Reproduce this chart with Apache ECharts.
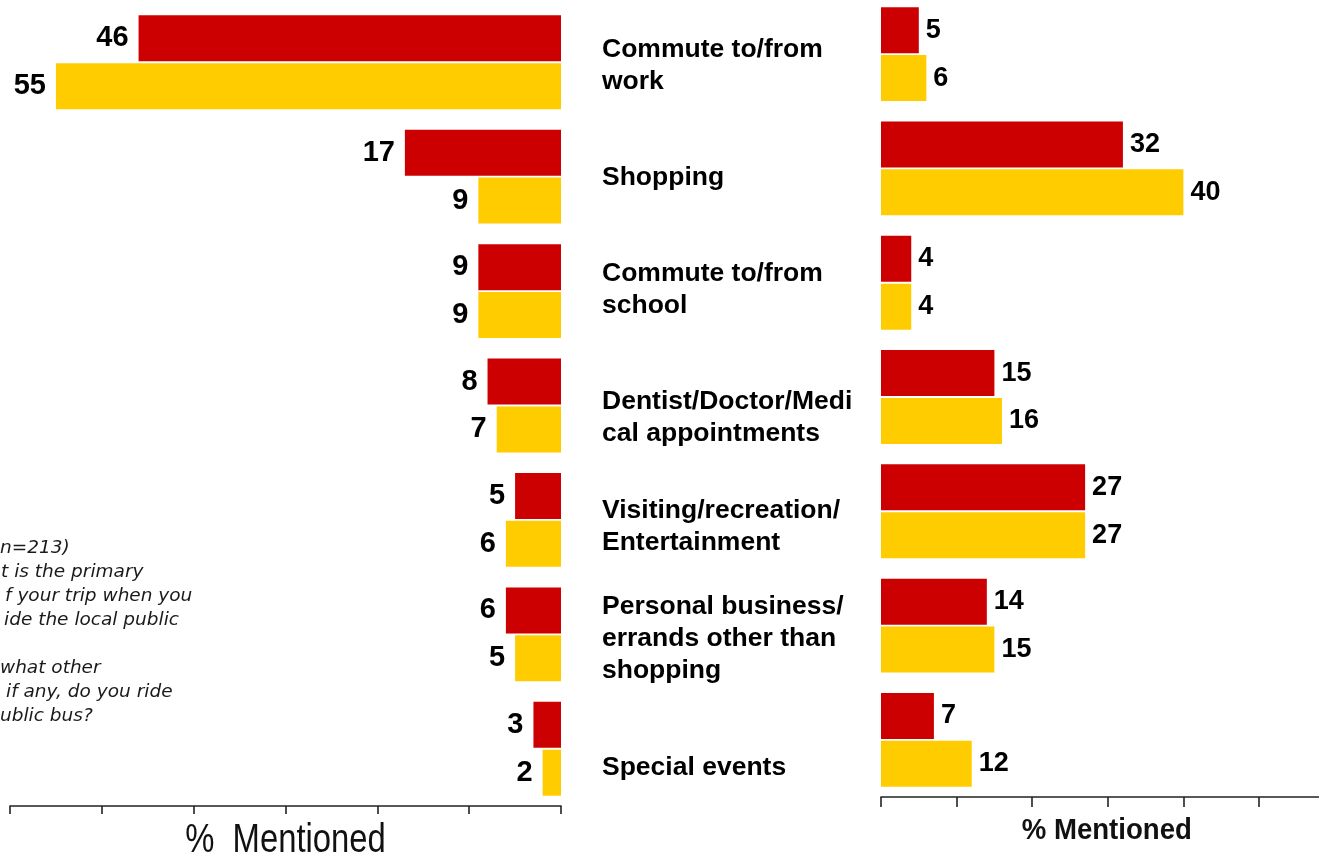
<!DOCTYPE html>
<html>
<head>
<meta charset="utf-8">
<title>Trip purposes – % Mentioned</title>
<script src="https://cdn.jsdelivr.net/npm/echarts@6/dist/echarts.min.js"></script>
<style>
  html, body { margin: 0; padding: 0; background: #ffffff; }
  #chart { width: 1319px; height: 856px; }
</style>
</head>
<body>
<div id="chart"></div>
<script>
// Trip purpose categories, top to bottom
const categories = [
  'Commute to/from\nwork',
  'Shopping',
  'Commute to/from\nschool',
  'Dentist/Doctor/Medi\ncal appointments',
  'Visiting/recreation/\nEntertainment',
  'Personal business/\nerrands other than\nshopping',
  'Special events'
];

// Primary purpose (left panel), % mentioned
const primaryRed    = [46, 17, 9, 8, 5, 6, 3];
const primaryYellow = [55, 9, 9, 7, 6, 5, 2];

// Other purposes (right panel), % mentioned
const otherRed    = [5, 32, 4, 15, 27, 14, 7];
const otherYellow = [6, 40, 4, 16, 27, 15, 12];

// Axis scale and titles
const axisMin = 0;
const axisMax = 60;
const axisStep = 10;
const leftAxisTitle = '%  Mentioned';
const rightAxisTitle = '% Mentioned';

// Question note (left edge)
const noteLines = [
  'n=213)',
  't is the primary',
  'f your trip when you',
  'ide the local public',
  'what other',
  'if any, do you ride',
  'ublic bus?'
];

const RED = '#CC0000';
const YELLOW = '#FFCC00';
const NARROW = "'Liberation Sans Narrow', 'Arial Narrow', 'Liberation Sans', Arial, sans-serif";
const SANS = "'Liberation Sans', Arial, Helvetica, sans-serif";

const chart = echarts.init(document.getElementById('chart'), null, { renderer: 'canvas' });

const tickStyle = { color: '#222', width: 1.6 };

const valueAxisBase = {
  type: 'value',
  min: axisMin,
  max: axisMax,
  interval: axisStep,
  splitLine: { show: false },
  axisLabel: { show: false },
  axisLine: { show: true, lineStyle: tickStyle }
};

const categoryAxisBase = {
  type: 'category',
  inverse: true,
  data: categories,
  axisLine: { show: false },
  axisTick: { show: false },
  splitLine: { show: false },
  axisLabel: { show: false }
};

function valueLabel(pos, dist, size) {
  return {
    show: true, position: pos, distance: dist,
    fontFamily: NARROW, fontWeight: 'bold', fontSize: size, color: '#000'
  };
}

function barSeries(name, axisIdx, values, color, label) {
  return {
    type: 'bar', name: name, xAxisIndex: axisIdx, yAxisIndex: axisIdx,
    data: values, barWidth: 46, barGap: '4%',
    itemStyle: { color: color },
    label: label
  };
}

const option = {
  animation: false,
  backgroundColor: '#ffffff',
  grid: [
    { left: 10, top: 5, width: 551, height: 801, outerBoundsMode: 'none', containLabel: false },
    { left: 881, top: -3, width: 453.6, height: 800, outerBoundsMode: 'none', containLabel: false }
  ],
  xAxis: [
    Object.assign({}, valueAxisBase, {
      gridIndex: 0,
      inverse: true,
      axisTick: { show: true, length: 8, lineStyle: tickStyle }
    }),
    Object.assign({}, valueAxisBase, {
      gridIndex: 1,
      axisTick: { show: true, length: 10, lineStyle: tickStyle }
    })
  ],
  yAxis: [
    Object.assign({}, categoryAxisBase, { gridIndex: 0, position: 'right' }),
    Object.assign({}, categoryAxisBase, { gridIndex: 1 })
  ],
  series: [
    barSeries('primaryRed', 0, primaryRed, RED, valueLabel('left', 10, 29)),
    barSeries('primaryYellow', 0, primaryYellow, YELLOW, valueLabel('left', 10, 29)),
    barSeries('otherRed', 1, otherRed, RED, valueLabel('right', 7, 27)),
    barSeries('otherYellow', 1, otherYellow, YELLOW, valueLabel('right', 7, 27))
  ]
};

chart.setOption(option);

// Category text between the panels, centred on the left panel's rows
const labelNudge = [3, 1, -1, 12, 7, 4, 19];
const graphics = categories.map((c, i) => ({
  type: 'text',
  x: 602,
  y: chart.convertToPixel({ yAxisIndex: 0 }, i) + labelNudge[i],
  style: {
    text: c,
    font: 'bold 26.5px ' + SANS,
    lineHeight: 32,
    fill: '#000',
    align: 'left',
    verticalAlign: 'middle'
  }
}));

// Axis titles, set in a condensed cut
const leftRect = chart.getModel().getComponent('grid', 0).coordinateSystem.getRect();
const rightRect = chart.getModel().getComponent('grid', 1).coordinateSystem.getRect();
graphics.push({
  type: 'text',
  x: leftRect.x + leftRect.width / 2,
  y: leftRect.y + leftRect.height + 35,
  scaleX: 0.82,
  style: {
    text: leftAxisTitle,
    font: 'normal 40px ' + SANS,
    fill: '#111',
    align: 'center',
    verticalAlign: 'middle'
  }
});
graphics.push({
  type: 'text',
  x: rightRect.x + rightRect.width / 2 - 1,
  y: rightRect.y + rightRect.height + 34,
  scaleX: 0.92,
  style: {
    text: rightAxisTitle,
    font: 'bold 30px ' + SANS,
    fill: '#111',
    align: 'center',
    verticalAlign: 'middle'
  }
});

// Question note, clipped at the page edge
const noteX = [0, 1, 5, 4, 0, 6, 0];
const noteRow = [0, 1, 2, 3, 5, 6, 7];
noteLines.forEach((t, i) => {
  graphics.push({
    type: 'text',
    x: noteX[i],
    y: 548 + 24 * noteRow[i],
    style: {
      text: t,
      font: 'italic 18.5px "DejaVu Sans", Verdana, sans-serif',
      fill: '#1a1a1a',
      align: 'left',
      verticalAlign: 'middle'
    }
  });
});

chart.setOption({ graphic: graphics });
</script>
</body>
</html>
